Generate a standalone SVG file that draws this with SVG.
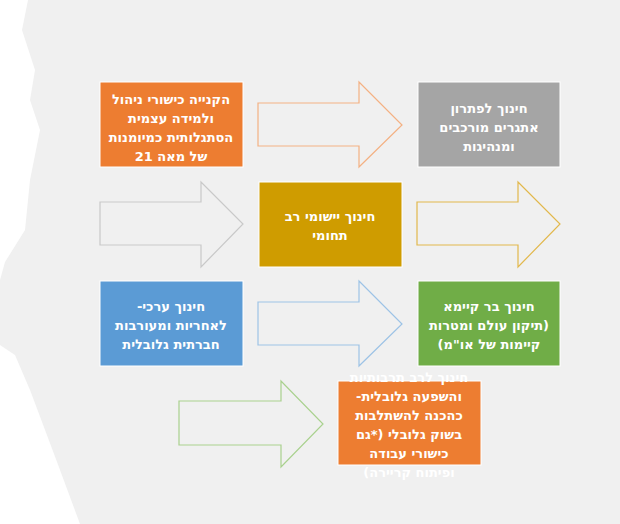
<svg xmlns="http://www.w3.org/2000/svg" width="620" height="524" viewBox="0 0 620 524">
<style>
.t{font-family:"DejaVu Sans",sans-serif;font-size:13px;font-weight:bold;fill:#fff;text-anchor:middle;direction:rtl}
.a{fill:none;stroke-width:1.2}
</style>
<rect width="620" height="524" fill="#f0f0f0"/>
<path d="M0 0 H28 L22 30 L35 70 L30 100 L40 130 L30 180 L25 230 L5 262 L0 280 V524 H80 L60 470 L45 430 L30 390 L15 355 L0 345 Z" fill="#ffffff"/>
<g id="connectors">
<path class="a" stroke="#f4b183" d="M258 103 H359 V82 L402 125 L359 167 V146 H258 Z"/>
<path class="a" stroke="#c9c9c9" d="M100 202 H201 V182 L243 224 L201 267 V245 H100 Z"/>
<path class="a" stroke="#e2b84c" d="M417 202 H518 V182 L560 224 L518 267 V245 H417 Z"/>
<path class="a" stroke="#9dc3e6" d="M258 302 H359 V281 L402 324 L359 366 V345 H258 Z"/>
<path class="a" stroke="#a9d18e" d="M179 401 H281 V381 L323 424 L281 467 V445 H179 Z"/>
</g>
<g id="n1"><rect x="100" y="82" width="143" height="85" fill="#ed7d31" stroke="#fff"/>
<text class="t"><tspan x="171" y="104">הקנייה כישורי ניהול</tspan><tspan x="171" y="123">ולמידה עצמית</tspan><tspan x="171" y="142">הסתגלותית כמיומנות</tspan><tspan x="171" y="161">של מאה 21</tspan></text></g>
<g id="n2"><rect x="418" y="82" width="142" height="85" fill="#a5a5a5" stroke="#fff"/>
<text class="t"><tspan x="489" y="113">חינוך לפתרון</tspan><tspan x="489" y="132">אתגרים מורכבים</tspan><tspan x="489" y="151">ומנהיגות</tspan></text></g>
<g id="n3"><rect x="259" y="182" width="143" height="85" fill="#cf9c00" stroke="#fff"/>
<text class="t"><tspan x="330" y="221">חינוך יישומי רב</tspan><tspan x="330" y="240">תחומי</tspan></text></g>
<g id="n4"><rect x="100" y="281" width="143" height="85" fill="#5b9bd5" stroke="#fff"/>
<text class="t"><tspan x="171" y="311">חינוך ערכי-</tspan><tspan x="171" y="330">לאחריות ומעורבות</tspan><tspan x="171" y="349">חברתית גלובלית</tspan></text></g>
<g id="n5"><rect x="418" y="281" width="142" height="85" fill="#70ad47" stroke="#fff"/>
<text class="t"><tspan x="489" y="311">חינוך בר קיימא</tspan><tspan x="489" y="330">(תיקון עולם ומטרות</tspan><tspan x="489" y="349">קיימות של או"מ)</tspan></text></g>
<g id="n6"><rect x="338" y="381" width="143" height="84" fill="#ed7d31" stroke="#fff"/>
<text class="t"><tspan x="409" y="382">חינוך לרב תרבותיות</tspan><tspan x="409" y="401">והשפעה גלובלית-</tspan><tspan x="409" y="420">כהכנה להשתלבות</tspan><tspan x="409" y="439">בשוק גלובלי (*גם</tspan><tspan x="409" y="458">כישורי עבודה</tspan><tspan x="409" y="477">ופיתוח קריירה)</tspan></text></g>
</svg>
